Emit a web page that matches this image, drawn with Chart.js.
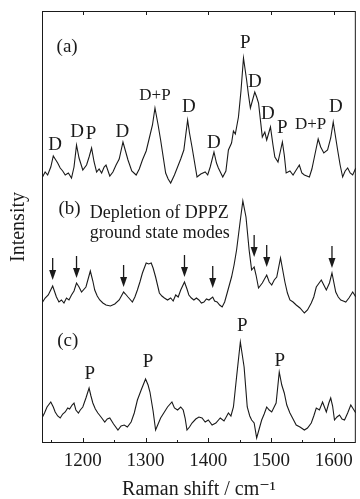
<!DOCTYPE html>
<html lang="en">
<head>
    <meta charset="UTF-8">
    <title>Raman spectra</title>
    <script src="https://cdn.jsdelivr.net/npm/chart.js@4.4.0/dist/chart.umd.min.js"></script>
    <style>
        html, body { margin: 0; padding: 0; background: #ffffff; }
        .chart-box { width: 360px; height: 499px; position: relative; }
    </style>
</head>
<body>
    <div class="chart-box"><canvas id="ramanChart"></canvas></div>

    <script>
        // Raman shift (cm-1) and offset intensities
        const shiftA = [1135, 1140, 1144, 1149, 1153, 1156, 1160, 1164, 1168, 1172, 1177, 1182, 1186, 1190, 1194, 1200, 1206, 1210, 1214, 1218, 1222, 1226, 1230, 1234, 1237, 1243, 1248, 1253, 1258, 1264, 1268, 1272, 1278, 1285, 1290, 1295, 1301, 1306, 1311, 1315, 1320, 1324, 1332, 1336, 1340, 1346, 1351, 1356, 1361, 1367, 1370, 1374, 1382, 1388, 1395, 1399, 1403, 1409, 1413, 1416, 1423, 1428, 1432, 1437, 1440, 1443, 1448, 1452, 1456, 1461, 1464, 1467, 1474, 1477, 1480, 1486, 1490, 1493, 1499, 1503, 1506, 1511, 1518, 1521, 1524, 1530, 1535, 1540, 1545, 1549, 1553, 1561, 1565, 1569, 1575, 1579, 1584, 1590, 1595, 1599, 1603, 1606, 1610, 1614, 1618, 1622, 1626, 1630, 1635];
        const traceA = [265, 271, 268, 276, 287, 284, 280, 275, 272, 268, 270, 265, 276, 298, 285, 273, 278, 286, 295, 281, 271, 274, 270, 276, 278, 267, 271, 278, 284, 301, 292, 283, 272, 268, 274, 283, 292, 305, 318, 335, 318, 303, 270, 264, 260, 268, 276, 284, 293, 323, 310, 296, 266, 269, 271, 268, 276, 291, 280, 275, 266, 272, 293, 300, 312, 309, 326, 352, 385, 363, 348, 335, 351, 346, 340, 306, 311, 303, 316, 298, 286, 281, 301, 288, 270, 272, 268, 273, 278, 270, 268, 266, 274, 286, 304, 296, 290, 293, 305, 321, 305, 293, 278, 266, 272, 275, 270, 268, 275];

        const shiftB = [1135, 1140, 1145, 1152, 1158, 1162, 1166, 1170, 1174, 1178, 1182, 1186, 1190, 1194, 1198, 1205, 1212, 1216, 1219, 1223, 1227, 1232, 1237, 1244, 1251, 1258, 1265, 1268, 1272, 1279, 1283, 1287, 1291, 1295, 1301, 1305, 1309, 1312, 1316, 1322, 1326, 1330, 1335, 1340, 1344, 1348, 1352, 1356, 1362, 1366, 1369, 1373, 1377, 1381, 1385, 1389, 1393, 1397, 1401, 1407, 1410, 1414, 1418, 1422, 1426, 1430, 1437, 1441, 1445, 1451, 1455, 1460, 1465, 1469, 1473, 1476, 1480, 1486, 1493, 1497, 1501, 1505, 1509, 1515, 1522, 1526, 1530, 1535, 1540, 1546, 1553, 1558, 1564, 1568, 1572, 1580, 1584, 1588, 1593, 1597, 1603, 1607, 1611, 1615, 1619, 1624, 1630, 1635];
        const traceB = [140, 145, 148, 157, 146, 141, 143, 140, 145, 143, 148, 152, 160, 156, 151, 156, 172, 162, 153, 147, 143, 140, 138, 137, 139, 143, 151, 149, 146, 141, 146, 153, 161, 170, 180, 179, 180, 175, 166, 150, 147, 145, 143, 145, 142, 148, 146, 153, 161, 154, 148, 145, 143, 145, 143, 140, 141, 144, 143, 146, 142, 141, 138, 136, 141, 150, 166, 178, 193, 223, 242, 226, 193, 173, 176, 168, 155, 160, 168, 161, 158, 163, 166, 185, 161, 150, 143, 141, 138, 135, 130, 133, 140, 146, 156, 163, 158, 153, 160, 170, 151, 146, 143, 142, 141, 145, 151, 146];

        const shiftC = [1135, 1139, 1143, 1149, 1153, 1156, 1160, 1164, 1168, 1172, 1176, 1179, 1183, 1186, 1189, 1193, 1196, 1200, 1205, 1210, 1213, 1216, 1220, 1224, 1229, 1235, 1239, 1243, 1249, 1256, 1261, 1266, 1271, 1277, 1282, 1287, 1293, 1300, 1304, 1307, 1312, 1316, 1320, 1324, 1330, 1335, 1342, 1346, 1351, 1356, 1360, 1363, 1366, 1370, 1374, 1380, 1385, 1390, 1395, 1400, 1406, 1412, 1419, 1425, 1432, 1436, 1440, 1445, 1451, 1457, 1462, 1466, 1469, 1473, 1477, 1481, 1485, 1489, 1493, 1497, 1501, 1508, 1513, 1517, 1521, 1525, 1530, 1535, 1540, 1546, 1553, 1558, 1564, 1568, 1572, 1577, 1582, 1585, 1588, 1592, 1595, 1598, 1601, 1605, 1609, 1613, 1617, 1622, 1627, 1631, 1635];
        const traceC = [25, 30, 36, 41, 36, 31, 27, 25, 29, 31, 35, 34, 38, 40, 33, 30, 33, 36, 45, 55, 47, 40, 34, 30, 26, 21, 24, 25, 19, 13, 17, 18, 16, 21, 30, 43, 53, 64, 58, 51, 32, 13, 19, 25, 31, 36, 41, 35, 33, 36, 33, 25, 13, 16, 20, 24, 26, 25, 21, 23, 18, 20, 25, 22, 30, 27, 36, 66, 101, 76, 36, 27, 23, 20, 5, 14, 23, 29, 36, 33, 31, 40, 71, 58, 50, 38, 30, 24, 18, 16, 13, 15, 20, 27, 35, 33, 41, 36, 31, 40, 45, 37, 23, 26, 28, 24, 23, 30, 38, 34, 30];

        const xTicks = [1200, 1300, 1400, 1500, 1600];
        const xMinorTicks = [1150, 1250, 1350, 1450, 1550];

        // peak assignments: [text, shift, height]
        const notesA = [['D', 1156, 298], ['D', 1191, 311], ['P', 1213, 309], ['D', 1263, 311], ['D+P', 1315, 347],
            ['D', 1369, 336], ['D', 1409, 300], ['P', 1459, 400], ['D', 1474, 361], ['D', 1495, 329],
            ['P', 1518, 315], ['D+P', 1563, 318], ['D', 1603, 336]];
        const notesC = [['P', 1211, 69], ['P', 1304, 81], ['P', 1454, 117], ['P', 1514, 82]];
        const panelTags = [['(a)', 1175, 396], ['(b)', 1179, 234], ['(c)', 1176, 102]];
        const arrowShift = [1152, 1190, 1265, 1362, 1407, 1473, 1493, 1597];
        const arrowTip = [163, 165, 156, 166, 155, 186, 176, 175];

        const serif = '"Liberation Serif", "DejaVu Serif", serif';
        const ink = '#1a1a1a';

        const toPoints = (xs, ys) => xs.map((x, i) => ({ x: x, y: ys[i] }));

        const framePlugin = {
            id: 'framePlugin',
            afterDatasetsDraw(chart) {
                const ctx = chart.ctx;
                const area = chart.chartArea;
                const xs = chart.scales.x;
                const ys = chart.scales.y;
                ctx.save();
                ctx.strokeStyle = ink;
                ctx.lineWidth = 1;
                ctx.strokeRect(area.left + 0.5, area.top + 0.5, area.right - area.left - 1, area.bottom - area.top - 1);

                // inward ticks on the bottom and top edges
                ctx.beginPath();
                xTicks.forEach(v => {
                    const px = Math.round(xs.getPixelForValue(v)) + 0.5;
                    ctx.moveTo(px, area.bottom); ctx.lineTo(px, area.bottom - 5);
                    ctx.moveTo(px, area.top); ctx.lineTo(px, area.top + 4);
                });
                xMinorTicks.forEach(v => {
                    const px = Math.round(xs.getPixelForValue(v)) + 0.5;
                    ctx.moveTo(px, area.bottom); ctx.lineTo(px, area.bottom - 3);
                });
                ctx.stroke();

                ctx.fillStyle = ink;
                ctx.textAlign = 'center';
                ctx.textBaseline = 'middle';
                const drawNote = (n) => {
                    ctx.font = (n[0] === 'D+P' ? '17px ' : '19px ') + serif;
                    ctx.fillText(n[0], xs.getPixelForValue(n[1]), ys.getPixelForValue(n[2]));
                };
                notesA.forEach(drawNote);
                notesC.forEach(drawNote);
                panelTags.forEach(drawNote);

                ctx.font = '18px ' + serif;
                ctx.textAlign = 'left';
                const tx = xs.getPixelForValue(1211);
                ctx.fillText('Depletion of DPPZ', tx, ys.getPixelForValue(230));
                ctx.fillText('ground state modes', tx, ys.getPixelForValue(210));

                // depletion arrows over trace (b)
                arrowShift.forEach((v, i) => {
                    const px = xs.getPixelForValue(v);
                    const tip = ys.getPixelForValue(arrowTip[i]);
                    ctx.beginPath();
                    ctx.moveTo(px, tip - 22);
                    ctx.lineTo(px, tip - 8);
                    ctx.lineWidth = 1.3;
                    ctx.stroke();
                    ctx.beginPath();
                    ctx.moveTo(px - 3.5, tip - 10);
                    ctx.lineTo(px + 3.5, tip - 10);
                    ctx.lineTo(px, tip);
                    ctx.closePath();
                    ctx.fill();
                });
                ctx.restore();
            }
        };

        const lineStyle = {
            borderColor: ink,
            borderWidth: 1.1,
            pointRadius: 0,
            tension: 0,
            fill: false
        };

        new Chart(document.getElementById('ramanChart'), {
            type: 'line',
            data: {
                datasets: [
                    Object.assign({ label: '(a)', data: toPoints(shiftA, traceA) }, lineStyle),
                    Object.assign({ label: '(b)', data: toPoints(shiftB, traceB) }, lineStyle),
                    Object.assign({ label: '(c)', data: toPoints(shiftC, traceC) }, lineStyle)
                ]
            },
            options: {
                responsive: true,
                maintainAspectRatio: false,
                animation: false,
                layout: { padding: { top: 11, right: 2, left: 0, bottom: 0 } },
                plugins: { legend: { display: false }, tooltip: { enabled: false } },
                scales: {
                    x: {
                        type: 'linear',
                        min: 1135,
                        max: 1635,
                        afterBuildTicks: s => { s.ticks = xTicks.map(v => ({ value: v })); },
                        afterFit: s => { s.height = 56; },
                        grid: { display: false, drawTicks: false },
                        border: { display: false },
                        ticks: {
                            color: ink,
                            padding: 7,
                            font: { family: serif, size: 19 },
                            callback: v => String(v)
                        },
                        title: {
                            display: true,
                            text: 'Raman shift / cm\u207B\u00B9',
                            color: ink,
                            font: { family: serif, size: 20, lineHeight: 1 },
                            padding: { top: 0, bottom: -1 }
                        }
                    },
                    y: {
                        min: 0,
                        max: 432,
                        afterFit: s => { s.width = 42; },
                        grid: { display: false, drawTicks: false },
                        border: { display: false },
                        ticks: { display: false },
                        title: {
                            display: true,
                            text: 'Intensity',
                            color: ink,
                            font: { family: serif, size: 20 },
                            padding: { top: 7, bottom: 0 }
                        }
                    }
                }
            },
            plugins: [framePlugin]
        });
    </script>
</body>
</html>
